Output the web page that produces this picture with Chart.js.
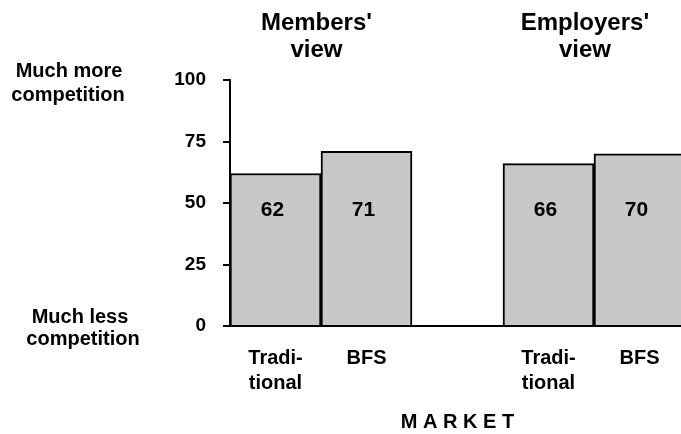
<!DOCTYPE html>
<html>
<head>
<meta charset="utf-8">
<script src="https://cdn.jsdelivr.net/npm/chart.js"></script>
<style>
  html, body { margin: 0; padding: 0; background: #fff; overflow: hidden; }
  #wrap { width: 690px; height: 434px; }
</style>
</head>
<body>
<div id="wrap"><canvas id="chart" width="690" height="434"></canvas></div>
<script>
// market categories, empty slot separates the two groups
const categories = [['Tradi-', 'tional'], 'BFS', '', ['Tradi-', 'tional'], 'BFS'];
const scores = [62, 71, null, 66, 70];
const groupTitles = [["Members'", 'view'], ["Employers'", 'view']];
const scaleEnds = [['Much more', 'competition'], ['Much less', 'competition']];
const yTicks = [0, 25, 50, 75, 100];

const FONT = 'Arial, "Liberation Sans", sans-serif';

// titles over each group, end labels on the left, values inside bars
const annotate = {
    id: 'annotate',
    afterDraw(chart) {
        const ctx = chart.ctx;
        const x = chart.scales.x;
        const y = chart.scales.y;
        ctx.save();
        ctx.fillStyle = '#000';
        ctx.textAlign = 'center';
        ctx.textBaseline = 'middle';

        ctx.font = 'bold 24px ' + FONT;
        [[0.45, groupTitles[0]], [3.4, groupTitles[1]]].forEach(([pos, lines]) => {
            const cx = x.getPixelForValue(pos);
            lines.forEach((t, i) => ctx.fillText(t, cx, 23 + i * 27));
        });

        ctx.font = 'bold 20px ' + FONT;
        const top = y.getPixelForValue(100);
        ctx.fillText(scaleEnds[0][0], 69, top - 9);
        ctx.fillText(scaleEnds[0][1], 68, top + 15);
        const bottom = y.getPixelForValue(0);
        ctx.fillText(scaleEnds[1][0], 80, bottom - 9);
        ctx.fillText(scaleEnds[1][1], 83, bottom + 13);

        ctx.font = 'bold 21px ' + FONT;
        const meta = chart.getDatasetMeta(0);
        meta.data.forEach((bar, i) => {
            if (scores[i] == null) return;
            ctx.fillText(String(scores[i]), bar.x - 3, y.getPixelForValue(47));
        });
        ctx.restore();
    }
};

new Chart(document.getElementById('chart'), {
    type: 'bar',
    data: {
        labels: categories,
        datasets: [{
            data: scores,
            backgroundColor: '#c8c8c8',
            borderColor: '#000',
            borderWidth: 2,
            barPercentage: 1,
            categoryPercentage: 1
        }]
    },
    options: {
        responsive: false,
        animation: false,
        layout: { padding: { top: 80, right: 5, bottom: 0, left: 0 } },
        plugins: {
            legend: { display: false },
            tooltip: { enabled: false }
        },
        scales: {
            x: {
                grid: { display: false },
                border: { color: '#000', width: 2 },
                ticks: {
                    color: '#000',
                    padding: 12,
                    maxRotation: 0,
                    font: { family: FONT, size: 20, weight: 'bold', lineHeight: 1.25 }
                },
                title: {
                    display: true,
                    text: 'M A R K E T',
                    color: '#000',
                    padding: { top: 20, bottom: 0 },
                    font: { family: FONT, size: 20, weight: 'bold' }
                },
                afterFit(scale) { scale.height = 108; }
            },
            y: {
                min: 0,
                max: 100,
                afterBuildTicks(scale) { scale.ticks = yTicks.map(v => ({ value: v })); },
                grid: { drawOnChartArea: false, drawTicks: true, tickLength: 7, color: '#000', lineWidth: 2 },
                border: { color: '#000', width: 2 },
                ticks: {
                    color: '#000',
                    padding: 17,
                    font: { family: FONT, size: 19, weight: 'bold' }
                },
                afterFit(scale) { scale.width = 230; }
            }
        }
    },
    plugins: [annotate]
});
</script>
</body>
</html>
